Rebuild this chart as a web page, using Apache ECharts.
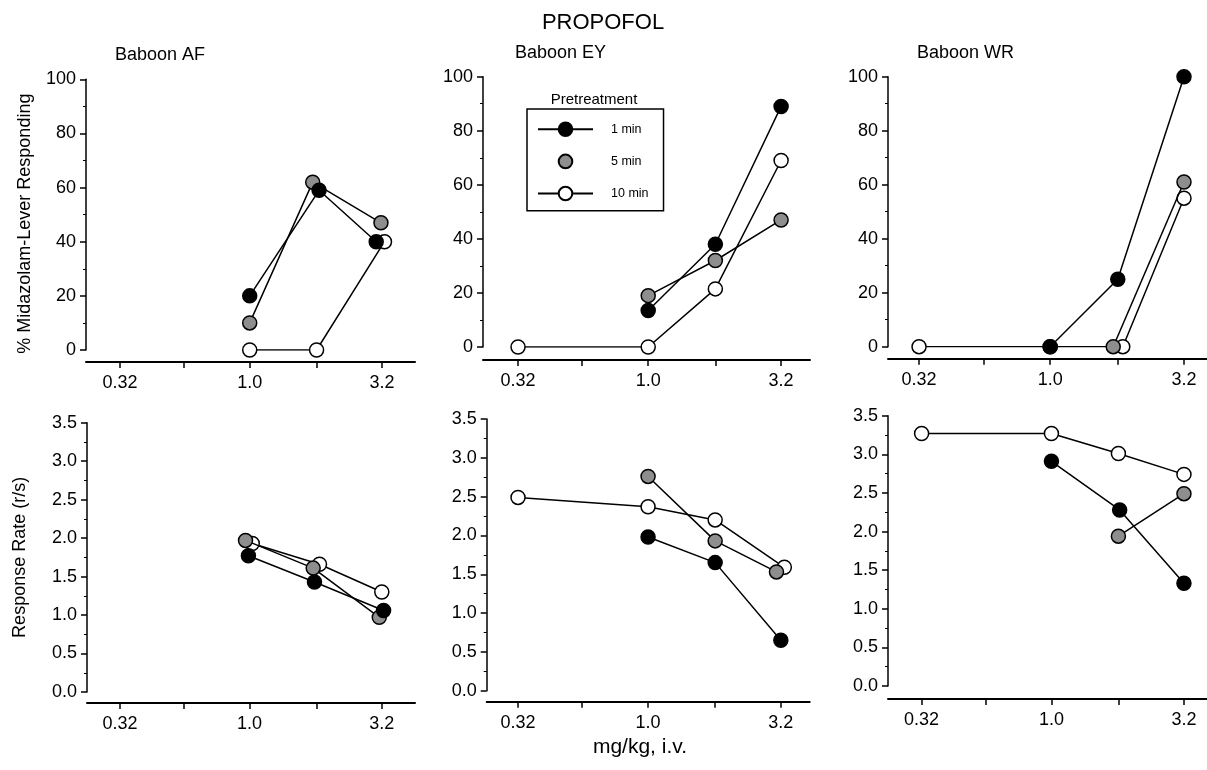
<!DOCTYPE html>
<html><head><meta charset="utf-8">
<script src="https://cdn.jsdelivr.net/npm/echarts@6/dist/echarts.min.js"></script>
<style>html,body{margin:0;padding:0;background:#fff}#c{width:1207px;height:770px}</style>
</head><body><div id="c"></div>
<script>
// ---------- data ----------
const seriesNames = ['1 min', '5 min', '10 min'];
const panelTitles = ['Baboon AF', 'Baboon EY', 'Baboon WR'];
const mainTitle = 'PROPOFOL';
const xAxisTitle = 'mg/kg, i.v.';
const yTopTitle = '% Midazolam-Lever Responding';
const yBottomTitle = 'Response Rate (r/s)';
const legendTitle = 'Pretreatment';
const xTickDoses = [0.32, 0.56, 1.0, 1.8, 3.2];
const xLabelDoses = [0.32, 1.0, 3.2];
const xLabelTexts = ['0.32', '1.0', '3.2'];

// Top row: % Midazolam-lever responding
const afPct1Dose = [1.0, 1.84, 3.04];   const afPct1 = [20, 59, 40];
const afPct5Dose = [1.0, 1.74, 3.17];   const afPct5 = [10, 62, 47];
const afPct10Dose = [1.0, 1.8, 3.27];   const afPct10 = [0, 0, 40];
const eyPct1Dose = [1.0, 1.8, 3.2];     const eyPct1 = [13.5, 38, 89];
const eyPct5Dose = [1.0, 1.8, 3.2];     const eyPct5 = [19, 32, 47];
const eyPct10Dose = [0.32, 1.0, 1.8, 3.2]; const eyPct10 = [0, 0, 21.5, 69];
const wrPct1Dose = [1.0, 1.8, 3.2];     const wrPct1 = [0, 25, 100];
const wrPct5Dose = [1.73, 3.2];         const wrPct5 = [0, 61];
const wrPct10Dose = [0.32, 1.0, 1.88, 3.2]; const wrPct10 = [0, 0, 0, 55];

// Bottom row: response rate (r/s)
const afRate1Dose = [0.99, 1.77, 3.25];  const afRate1 = [1.77, 1.43, 1.06];
const afRate5Dose = [0.965, 1.75, 3.13]; const afRate5 = [1.97, 1.61, 0.97];
const afRate10Dose = [1.024, 1.85, 3.2]; const afRate10 = [1.93, 1.66, 1.30];
const eyRate1Dose = [1.0, 1.8, 3.2];     const eyRate1 = [1.98, 1.65, 0.65];
const eyRate5Dose = [1.0, 1.8, 3.08];    const eyRate5 = [2.76, 1.93, 1.53];
const eyRate10Dose = [0.32, 1.0, 1.8, 3.3]; const eyRate10 = [2.49, 2.37, 2.20, 1.59];
const wrRate1Dose = [1.0, 1.82, 3.2];    const wrRate1 = [2.91, 2.28, 1.33];
const wrRate5Dose = [1.8, 3.2];          const wrRate5 = [1.94, 2.49];
const wrRate10Dose = [0.32, 1.0, 1.8, 3.2]; const wrRate10 = [3.27, 3.27, 3.01, 2.74];

// ---------- layout ----------
const FONT = '"Liberation Sans", Arial, Helvetica, sans-serif';
const panels = [
  {grid:{left:86,  top:79.3,  width:329, height:270.7}, xmin:-0.625, xmax:0.631, offset:12, top:true,
   d:[[afPct1Dose,afPct1],[afPct5Dose,afPct5],[afPct10Dose,afPct10]]},
  {grid:{left:483, top:76.7,  width:327, height:270.3}, xmin:-0.628, xmax:0.615, offset:13, top:true,
   d:[[eyPct1Dose,eyPct1],[eyPct5Dose,eyPct5],[eyPct10Dose,eyPct10]]},
  {grid:{left:888, top:76.7,  width:319, height:270},   xmin:-0.612, xmax:0.592, offset:12, top:true,
   d:[[wrPct1Dose,wrPct1],[wrPct5Dose,wrPct5],[wrPct10Dose,wrPct10]]},
  {grid:{left:87,  top:422.7, width:328, height:269.3}, xmin:-0.621, xmax:0.632, offset:11, top:false,
   d:[[afRate1Dose,afRate1],[afRate5Dose,afRate5],[afRate10Dose,afRate10]]},
  {grid:{left:486.7, top:419, width:323, height:271.7}, xmin:-0.614, xmax:0.615, offset:11, top:false,
   d:[[eyRate1Dose,eyRate1],[eyRate5Dose,eyRate5],[eyRate10Dose,eyRate10]]},
  {grid:{left:888, top:415.7, width:319, height:270.3}, xmin:-0.623, xmax:0.593, offset:13, top:false,
   d:[[wrRate1Dose,wrRate1],[wrRate5Dose,wrRate5],[wrRate10Dose,wrRate10]]}
];
const fills = ['#000000', '#8e8e8e', '#ffffff'];
const zs = [5, 4, 3];

const lg = Math.log10;
const grids = [], xAxes = [], yAxes = [], series = [];
panels.forEach((p, i) => {
  grids.push(Object.assign({containLabel:false}, p.grid));
  xAxes.push({
    gridIndex:i, type:'value', min:p.xmin, max:p.xmax, offset:p.offset,
    axisLine:{show:true, onZero:false, lineStyle:{color:'#000', width:2}},
    axisTick:{show:true, customValues:xTickDoses.map(lg), length:6, lineStyle:{color:'#000', width:1.5}},
    axisLabel:{show:true, customValues:xLabelDoses.map(lg), margin:12, fontSize:18, color:'#000', fontFamily:FONT,
      formatter:(v)=>{ for (let k=0;k<xLabelDoses.length;k++){ if (Math.abs(lg(xLabelDoses[k])-v)<1e-6) return xLabelTexts[k]; } return ''; }},
    splitLine:{show:false}
  });
  const y = {
    gridIndex:i, type:'value', min:0, max:p.top?100:3.5, interval:p.top?20:0.5,
    axisLine:{show:true, onZero:false, lineStyle:{color:'#000', width:1.5}},
    axisTick:{show:true, length:6, lineStyle:{color:'#000', width:1.5}},
    minorTick:{show:true, splitNumber:2, length:3, lineStyle:{color:'#000', width:1}},
    splitLine:{show:false},
    axisLabel:{fontSize:18, color:'#000', margin:10, fontFamily:FONT,
      formatter:(v)=> p.top ? String(v) : v.toFixed(1)}
  };
  if (i === 0) Object.assign(y, {name:yTopTitle, nameLocation:'middle', nameGap:52,
      nameTextStyle:{fontSize:18, color:'#000', fontFamily:FONT, padding:[0, 18, 0, 0]}});
  if (i === 3) Object.assign(y, {name:yBottomTitle, nameLocation:'middle', nameGap:58,
      nameTextStyle:{fontSize:18, color:'#000', fontFamily:FONT}});
  yAxes.push(y);
  p.d.forEach((pair, k) => {
    series.push({
      type:'line', name:seriesNames[k], xAxisIndex:i, yAxisIndex:i, z:zs[k],
      data: pair[0].map((dose, j) => [lg(dose), pair[1][j]]),
      symbol:'circle', symbolSize:14, showSymbol:true,
      lineStyle:{color:'#000', width:1.5},
      itemStyle:{color:fills[k], borderColor:'#000', borderWidth:1.5},
      emphasis:{disabled:true}, animation:false
    });
  });
});

const titles = [
  {text:mainTitle, left:603, top:12, textAlign:'center'},
  {text:panelTitles[0], left:115, top:46},
  {text:panelTitles[1], left:515, top:44},
  {text:panelTitles[2], left:917, top:44},
  {text:xAxisTitle, left:640, top:737, textAlign:'center'},
  {text:legendTitle, left:594, top:92, textAlign:'center'}
].map((t, idx) => Object.assign({padding:0, textStyle:{fontFamily:FONT, fontWeight:'normal', color:'#000',
   fontSize: idx===0 ? 22 : (idx===4 ? 21 : (idx===5 ? 15 : 18))}}, t));

const chart = echarts.init(document.getElementById('c'), null, {renderer:'canvas'});
chart.setOption({
  backgroundColor:'#fff',
  animation:false,
  title:titles,
  legend:{
    orient:'vertical', left:527, top:109,
    data:[{name:'1 min'}, {name:'5 min', lineStyle:{opacity:0, width:0}}, {name:'10 min'}],
    itemWidth:55, itemHeight:17, itemGap:16.5,
    padding:[12.5, 15, 9.5, 10],
    borderColor:'#000', borderWidth:1.5, backgroundColor:'#fff',
    textStyle:{fontSize:12.5, color:'#000', fontFamily:FONT, padding:[0,0,0,13]},
    selectedMode:false
  },
  grid:grids, xAxis:xAxes, yAxis:yAxes, series:series
});
</script></body></html>
